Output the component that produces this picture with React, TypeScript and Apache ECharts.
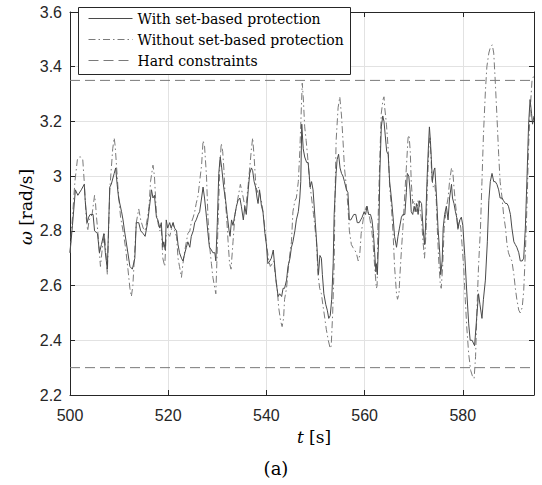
import React, { useEffect, useRef } from "react";
import * as echarts from "echarts";

// ---- Data ----
const xMin = 500;
const xMax = 594.5;
const yMin = 2.2;
const yMax = 3.6;
const hardUpper = 3.35;
const hardLower = 2.3;

const legendNames = [
  "With set-based protection",
  "Without set-based protection",
  "Hard constraints",
];

// [t (s), omega (rad/s)]
const withProtection: [number, number][] = [
  [500.0,2.72],[500.5,2.82],[501.1,2.95],[501.6,2.93],[502.3,2.95],[502.9,2.97],[503.1,2.91],[503.5,2.83],[503.8,2.85],[504.1,2.86],
  [504.7,2.86],[505.0,2.80],[505.6,2.79],[506.0,2.72],[506.4,2.75],[506.9,2.79],[507.2,2.72],[507.6,2.66],[508.1,2.96],[508.4,2.97],
  [509.0,3.01],[509.3,3.03],[509.6,2.97],[509.9,2.92],[510.5,2.87],[510.8,2.84],[511.1,2.80],[511.7,2.73],[512.2,2.67],[512.7,2.66],
  [513.2,2.70],[513.5,2.83],[514.0,2.83],[514.4,2.80],[514.9,2.79],[515.3,2.78],[515.8,2.83],[516.2,2.89],[516.6,2.95],[516.9,2.92],
  [517.2,2.93],[517.6,2.85],[517.9,2.84],[518.3,2.81],[518.6,2.83],[518.9,2.74],[519.1,2.76],[519.4,2.73],[519.6,2.84],[519.9,2.81],
  [520.3,2.83],[520.6,2.81],[521.0,2.83],[521.3,2.81],[521.7,2.80],[522.0,2.75],[522.3,2.72],[522.7,2.70],[523.0,2.69],[523.4,2.72],
  [523.7,2.74],[524.0,2.76],[524.4,2.74],[524.7,2.78],[525.1,2.80],[525.4,2.83],[525.7,2.84],[526.1,2.86],[526.4,2.87],[526.8,2.92],
  [527.1,2.96],[527.4,2.92],[527.8,2.85],[528.1,2.79],[528.4,2.74],[528.8,2.73],[529.1,2.72],[529.5,2.72],[529.7,2.69],[530.0,2.83],
  [530.3,3.01],[530.6,3.07],[530.9,3.03],[531.3,2.96],[531.7,2.91],[532.0,2.86],[532.4,2.80],[532.6,2.78],[532.9,2.84],[533.2,2.82],
  [533.6,2.86],[533.9,2.89],[534.2,2.91],[534.6,2.92],[534.9,2.89],[535.3,2.84],[535.6,2.89],[535.9,2.86],[536.3,2.95],[536.6,3.01],
  [536.95,3.03],[537.2,3.02],[537.5,2.98],[537.8,2.96],[538.1,2.92],[538.3,2.90],[538.6,2.95],[539.0,2.89],[539.3,2.87],[539.7,2.79],
  [540.0,2.75],[540.3,2.68],[540.7,2.69],[541.0,2.70],[541.4,2.73],[541.7,2.67],[542.0,2.61],[542.4,2.56],[542.7,2.57],[543.1,2.56],
  [543.4,2.59],[543.7,2.59],[544.1,2.62],[544.4,2.67],[544.8,2.70],[545.1,2.74],[545.4,2.76],[545.8,2.80],[546.1,2.84],[546.5,2.87],
  [546.8,2.92],[547.0,2.98],[547.2,3.19],[547.5,3.10],[547.8,3.07],[548.2,3.05],[548.5,3.05],[548.7,3.01],[548.9,2.96],[549.2,2.98],
  [549.5,2.95],[549.96,2.83],[550.3,2.74],[550.6,2.64],[550.9,2.71],[551.2,2.70],[551.4,2.64],[551.7,2.57],[552.1,2.53],[552.4,2.51],
  [552.7,2.48],[553.0,2.49],[553.3,2.55],[553.6,2.68],[553.8,2.86],[554.2,3.01],[554.4,3.06],[554.7,3.08],[555.0,3.03],[555.3,3.01],
  [555.6,3.00],[555.9,2.98],[556.3,2.95],[556.6,2.94],[556.9,2.84],[557.2,2.84],[557.5,2.85],[557.8,2.86],[558.2,2.86],[558.5,2.83],
  [558.9,2.83],[559.2,2.84],[559.5,2.85],[559.9,2.87],[560.2,2.86],[560.5,2.89],[560.8,2.86],[561.2,2.86],[561.5,2.84],[561.8,2.79],
  [562.05,2.72],[562.3,2.65],[562.45,2.68],[562.6,2.64],[562.9,2.79],[563.1,3.01],[563.4,3.18],[563.7,3.22],[563.95,3.20],[564.2,3.15],
  [564.5,3.09],[564.8,3.08],[565.1,2.98],[565.45,2.92],[565.8,2.85],[566.1,2.78],[566.5,2.74],[566.8,2.78],[567.1,2.81],[567.5,2.85],
  [567.8,2.86],[568.2,2.86],[568.5,2.94],[568.7,3.01],[569.0,3.00],[569.25,2.95],[569.5,2.87],[569.8,2.86],[570.1,2.89],[570.3,2.87],
  [570.6,2.90],[570.9,2.86],[571.2,2.91],[571.6,2.90],[571.9,2.81],[572.2,2.75],[572.4,2.81],[572.7,2.98],[572.95,3.09],[573.2,3.18],
  [573.4,3.13],[573.6,3.06],[573.8,2.98],[574.1,3.02],[574.3,3.03],[574.5,2.97],[574.75,2.89],[574.95,2.81],[575.3,2.72],[575.5,2.64],
  [575.8,2.69],[576.0,2.81],[576.3,2.86],[576.65,2.89],[577.0,2.84],[577.3,2.92],[577.7,2.97],[577.9,2.92],[578.2,2.90],[578.5,2.87],
  [578.75,2.85],[579.0,2.81],[579.4,2.84],[579.7,2.85],[580.0,2.82],[580.4,2.71],[580.8,2.58],[581.2,2.46],[581.5,2.40],[581.9,2.40],
  [582.4,2.38],[582.9,2.50],[583.2,2.57],[583.5,2.53],[583.9,2.48],[584.2,2.55],[584.6,2.62],[585.0,2.76],[585.3,2.91],[585.6,2.98],
  [585.95,3.01],[586.3,2.98],[586.6,2.98],[586.95,2.97],[587.3,2.95],[587.6,2.92],[588.0,2.92],[588.3,2.91],[588.7,2.90],[589.0,2.90],
  [589.3,2.89],[589.7,2.86],[590.0,2.81],[590.4,2.76],[590.7,2.75],[591.0,2.74],[591.4,2.72],[591.7,2.69],[592.1,2.69],[592.4,2.70],
  [592.74,2.81],[593.1,3.01],[593.4,3.19],[593.7,3.28],[594.0,3.23],[594.2,3.19],[594.5,3.22],
];

const withoutProtection: [number, number][] = [
  [500.0,2.72],[500.5,2.85],[501.0,2.98],[501.5,3.06],[501.8,3.07],[502.2,3.07],[502.6,3.06],[502.9,2.98],[503.3,2.85],[503.6,2.80],
  [503.9,2.84],[504.5,2.86],[505.0,2.93],[505.2,2.90],[505.4,2.85],[505.7,2.79],[506.2,2.67],[506.6,2.74],[507.0,2.79],[507.4,2.70],
  [507.6,2.64],[508.1,2.95],[508.7,3.10],[509.0,3.14],[509.2,3.11],[509.5,3.03],[509.8,2.95],[510.3,2.85],[510.8,2.80],[511.3,2.74],
  [511.8,2.66],[512.2,2.59],[512.5,2.56],[512.8,2.60],[513.2,2.73],[513.5,2.83],[514.0,2.88],[514.4,2.84],[514.9,2.81],[515.3,2.80],
  [515.8,2.85],[516.1,2.89],[516.4,2.98],[516.9,3.04],[517.2,3.00],[517.6,2.86],[517.9,2.83],[518.3,2.80],[518.6,2.81],[518.9,2.70],
  [519.3,2.67],[519.6,2.79],[519.9,2.79],[520.3,2.78],[520.6,2.80],[521.0,2.83],[521.3,2.80],[521.7,2.78],[522.0,2.70],[522.3,2.67],
  [522.7,2.63],[523.0,2.68],[523.4,2.73],[523.7,2.76],[524.0,2.79],[524.4,2.80],[524.7,2.83],[525.1,2.85],[525.4,2.87],[525.7,2.90],
  [526.1,2.93],[526.4,2.98],[526.8,3.04],[527.1,3.13],[527.4,3.11],[527.8,3.00],[528.1,2.85],[528.4,2.75],[528.8,2.68],[529.1,2.63],
  [529.5,2.59],[529.7,2.57],[529.9,2.68],[530.2,2.85],[530.5,3.03],[530.8,3.12],[531.1,3.09],[531.4,3.01],[531.6,2.92],[531.9,2.85],
  [532.2,2.76],[532.5,2.68],[532.8,2.66],[533.2,2.76],[533.6,2.86],[533.9,2.89],[534.2,2.92],[534.7,2.97],[534.95,2.95],[535.3,2.92],
  [535.6,2.89],[535.9,2.90],[536.3,2.97],[536.6,3.03],[536.95,3.10],[537.2,3.14],[537.5,3.07],[537.8,2.98],[538.1,2.94],[538.4,2.96],
  [538.8,2.92],[539.1,2.90],[539.5,2.84],[539.8,2.79],[540.1,2.74],[540.5,2.69],[540.8,2.67],[541.2,2.68],[541.5,2.69],[541.8,2.64],
  [542.2,2.59],[542.5,2.52],[542.9,2.47],[543.2,2.45],[543.5,2.48],[543.7,2.55],[544.1,2.59],[544.4,2.65],[544.8,2.72],[545.1,2.76],
  [545.4,2.87],[545.8,2.91],[546.1,2.92],[546.5,2.98],[546.8,3.09],[547.0,3.19],[547.3,3.34],[547.5,3.29],[547.8,3.18],[548.1,3.13],
  [548.4,3.07],[548.8,2.98],[549.2,2.92],[549.6,2.86],[550.2,2.76],[550.5,2.64],[550.85,2.59],[551.2,2.57],[551.5,2.53],[551.9,2.48],
  [552.2,2.44],[552.6,2.40],[553.0,2.37],[553.2,2.38],[553.5,2.50],[553.8,2.68],[553.95,2.90],[554.2,3.13],[554.6,3.25],[554.95,3.29],
  [555.3,3.22],[555.6,3.13],[555.9,3.03],[556.3,2.96],[556.6,2.89],[556.9,2.80],[557.3,2.75],[557.6,2.74],[557.97,2.73],[558.3,2.72],
  [558.7,2.69],[559.0,2.71],[559.3,2.79],[559.7,2.84],[560.0,2.87],[560.4,2.89],[560.7,2.87],[561.0,2.85],[561.4,2.81],[561.7,2.76],
  [562.05,2.67],[562.4,2.59],[562.55,2.60],[562.7,2.81],[563.1,3.07],[563.4,3.23],[563.75,3.28],[563.95,3.29],[564.1,3.25],[564.45,3.19],
  [564.8,3.10],[565.1,2.96],[565.45,2.89],[565.8,2.79],[566.1,2.67],[566.5,2.57],[566.7,2.55],[567.0,2.57],[567.2,2.64],[567.5,2.73],
  [567.8,2.81],[568.2,2.94],[568.5,3.03],[568.85,3.14],[569.05,3.15],[569.3,3.09],[569.5,2.98],[569.8,2.90],[570.1,2.91],[570.3,2.89],
  [570.6,2.87],[570.9,2.91],[571.2,2.89],[571.6,2.84],[571.9,2.76],[572.2,2.70],[572.5,2.79],[572.8,2.97],[573.1,3.11],[573.3,3.14],
  [573.5,3.08],[573.7,2.99],[574.0,2.96],[574.3,2.97],[574.6,2.91],[574.8,2.81],[575.1,2.69],[575.4,2.61],[575.6,2.59],[575.9,2.67],
  [576.2,2.81],[576.5,2.86],[576.7,2.89],[577.0,2.92],[577.3,2.98],[577.7,3.03],[577.95,3.02],[578.2,2.96],[578.5,2.90],[578.8,2.85],
  [579.0,2.80],[579.3,2.84],[579.6,2.81],[579.84,2.75],[580.2,2.66],[580.5,2.55],[580.8,2.45],[581.2,2.35],[581.6,2.29],[581.95,2.27],
  [582.3,2.26],[582.6,2.34],[582.9,2.52],[583.2,2.67],[583.6,2.81],[583.9,2.98],[584.2,3.15],[584.6,3.31],[584.9,3.40],[585.3,3.45],
  [585.6,3.47],[586.0,3.48],[586.3,3.45],[586.6,3.35],[586.95,3.22],[587.3,3.08],[587.6,2.98],[588.0,2.92],[588.3,2.86],[588.7,2.81],
  [589.0,2.75],[589.3,2.72],[589.7,2.70],[590.0,2.69],[590.4,2.64],[590.7,2.59],[591.0,2.55],[591.4,2.51],[591.7,2.50],[592.1,2.52],
  [592.4,2.58],[592.74,2.72],[593.1,2.91],[593.4,3.11],[593.75,3.25],[594.1,3.35],[594.5,3.37],
];

const AXIS = "#262626";
const SANS = "'Liberation Sans', Arial, Helvetica, sans-serif";
const SERIF = "'DejaVu Serif', serif";

function buildOption(): any {
  const baseX = {
    type: "value",
    min: xMin,
    max: xMax,
    interval: 20,
    axisLine: { show: true, onZero: false, lineStyle: { color: AXIS, width: 1 } },
    axisTick: { show: true, inside: true, length: 5, lineStyle: { color: AXIS, width: 1 } },
  };
  const baseY = {
    type: "value",
    min: yMin,
    max: yMax,
    interval: 0.2,
    axisLine: { show: true, onZero: false, lineStyle: { color: AXIS, width: 1 } },
    axisTick: { show: true, inside: true, length: 5, lineStyle: { color: AXIS, width: 1 } },
  };
  return {
    animation: false,
    backgroundColor: "#ffffff",
    grid: { left: 70, top: 12, width: 464, height: 383, containLabel: false },
    xAxis: [
      {
        ...baseX,
        position: "bottom",
        axisLabel: {
          color: AXIS,
          fontFamily: SANS,
          fontSize: 16,
          margin: 12,
          formatter: (v: number) => (Math.abs(v % 20) < 1e-6 ? String(Math.round(v)) : ""),
        },
        splitLine: { show: true, lineStyle: { color: "#e2e2e2", width: 1 } },
      },
      {
        ...baseX,
        position: "top",
        axisLabel: { show: false },
        splitLine: { show: false },
      },
    ],
    yAxis: [
      {
        ...baseY,
        position: "left",
        axisLabel: {
          color: AXIS,
          fontFamily: SANS,
          fontSize: 16,
          margin: 8,
          formatter: (v: number) => String(+v.toFixed(1)),
        },
        splitLine: { show: true, lineStyle: { color: "#e2e2e2", width: 1 } },
      },
      {
        ...baseY,
        position: "right",
        axisLabel: { show: false },
        splitLine: { show: false },
      },
    ],
    legend: {
      show: true,
      orient: "vertical",
      left: 88,
      top: 8,
      padding: 0,
      itemWidth: 44,
      itemHeight: 2,
      itemGap: 0,
      selectedMode: false,
      data: legendNames,
      itemStyle: { opacity: 0, borderWidth: 0 },
      lineStyle: { width: 1 },
      textStyle: { fontFamily: SERIF, fontSize: 14, color: "#000", lineHeight: 21 },
      z: 5,
    },
    graphic: [
      {
        type: "rect",
        z: 3,
        shape: { x: 78.5, y: 7.5, width: 272, height: 67 },
        style: { fill: "#ffffff", stroke: AXIS, lineWidth: 1 },
      },
      {
        type: "text",
        x: 26,
        y: 207,
        rotation: Math.PI / 2,
        style: {
          text: "{i|ω} [rad/s]",
          rich: { i: { fontStyle: "italic", fontFamily: SERIF, fontSize: 17, fill: "#000" } },
          fontFamily: SERIF,
          fontSize: 17,
          fill: "#000",
          align: "center",
          verticalAlign: "middle",
        },
      },
      {
        type: "text",
        x: 314,
        y: 437,
        style: {
          text: "{i|t} [s]",
          rich: { i: { fontStyle: "italic", fontFamily: SERIF, fontSize: 17, fill: "#000" } },
          fontFamily: SERIF,
          fontSize: 17,
          fill: "#000",
          align: "center",
          verticalAlign: "middle",
        },
      },
      {
        type: "text",
        x: 276,
        y: 468,
        style: {
          text: "(a)",
          fontFamily: SERIF,
          fontSize: 18,
          fill: "#000",
          align: "center",
          verticalAlign: "middle",
        },
      },
    ],
    series: [
      {
        name: legendNames[1],
        type: "line",
        data: withoutProtection,
        showSymbol: false,
        symbol: "none",
        lineStyle: { color: "#7a7a7a", width: 1, type: [7, 3, 1.5, 3] },
        itemStyle: { color: "#7a7a7a" },
        z: 2,
      },
      {
        name: legendNames[0],
        type: "line",
        data: withProtection,
        showSymbol: false,
        symbol: "none",
        lineStyle: { color: "#4a4a4a", width: 1, type: "solid" },
        itemStyle: { color: "#4a4a4a" },
        z: 2,
      },
      {
        name: legendNames[2],
        type: "line",
        data: [[xMin, hardUpper], [xMax, hardUpper]],
        showSymbol: false,
        symbol: "none",
        lineStyle: { color: "#7a7a7a", width: 1, type: [10, 5] },
        itemStyle: { color: "#7a7a7a" },
        z: 2,
      },
      {
        name: legendNames[2],
        type: "line",
        data: [[xMin, hardLower], [xMax, hardLower]],
        showSymbol: false,
        symbol: "none",
        lineStyle: { color: "#7a7a7a", width: 1, type: [10, 5] },
        itemStyle: { color: "#7a7a7a" },
        z: 2,
      },
    ],
  };
}

export default function App() {
  const ref = useRef<HTMLDivElement>(null);
  useEffect(() => {
    if (!ref.current) return;
    const chart = echarts.init(ref.current, null, { renderer: "svg" });
    chart.setOption(buildOption());
    return () => chart.dispose();
  }, []);
  return (
    <div
      ref={ref}
      style={{ position: "absolute", left: 0, top: 0, width: 542, height: 485, background: "#fff" }}
    />
  );
}
